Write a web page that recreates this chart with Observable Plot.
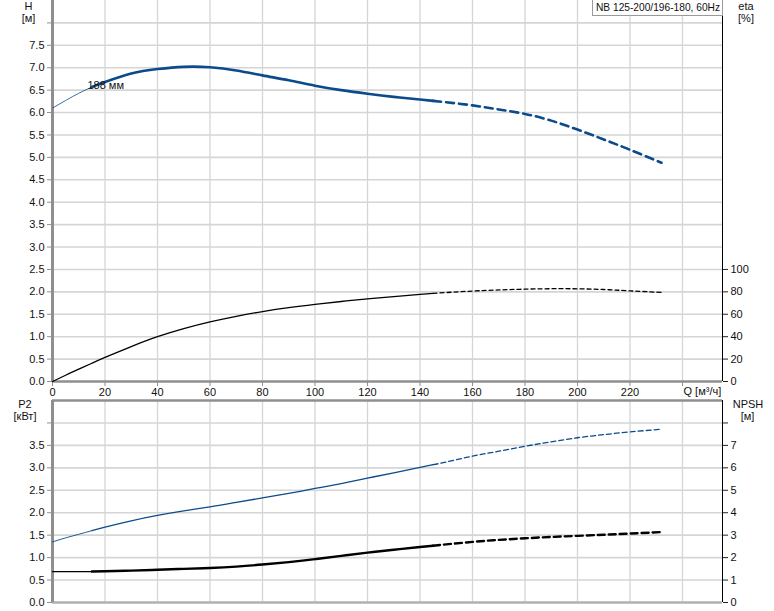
<!DOCTYPE html>
<html>
<head>
<meta charset="utf-8">
<script src="https://cdn.jsdelivr.net/npm/d3@7"></script>
<script src="https://cdn.jsdelivr.net/npm/@observablehq/plot@0.6"></script>
<style>
  body { margin: 0; background: #fff; font-family: Arial, "Liberation Sans", sans-serif; }
  #wrap { position: relative; width: 774px; height: 611px; overflow: hidden; background: #fff; }
  #wrap svg { position: absolute; left: 0; }
  .lbl { position: absolute; font-size: 11px; line-height: 12px; color: #111; text-align: center; width: 50px; white-space: nowrap; }
  #pump { position: absolute; left: 592px; top: -1px; width: 131px; height: 17px; border: 1px solid #9a9a9a; background: #fff;
          font-size: 10.2px; line-height: 16px; color: #111; padding-left: 3px; box-sizing: border-box; white-space: nowrap; }
</style>
</head>
<body>
<div id="wrap"></div>
<script>
// ---- data ----
const Q    = [0, 5, 10, 15, 20, 30, 40, 50, 60, 70, 80, 90, 100, 110, 120, 130, 140, 145, 150, 160, 170, 180, 190, 200, 210, 220, 232];
const H    = [6.10, 6.27, 6.43, 6.57, 6.68, 6.87, 6.97, 7.02, 7.01, 6.94, 6.83, 6.72, 6.60, 6.50, 6.42, 6.35, 6.29, 6.26, 6.23, 6.16, 6.07, 5.97, 5.82, 5.62, 5.40, 5.17, 4.88];
const ETA  = [0, 5.6, 11, 16.3, 21.5, 31.2, 40, 47.2, 53.2, 58.2, 62.4, 65.9, 68.8, 71.4, 73.7, 75.8, 77.7, 78.6, 79.4, 80.7, 81.7, 82.4, 82.8, 82.7, 82.1, 80.9, 79.5];
const P2   = [1.35, 1.44, 1.52, 1.60, 1.68, 1.82, 1.94, 2.04, 2.13, 2.23, 2.33, 2.43, 2.54, 2.65, 2.77, 2.89, 3.01, 3.07, 3.13, 3.26, 3.37, 3.48, 3.58, 3.67, 3.74, 3.80, 3.86];
const NPSH = [1.38, 1.38, 1.38, 1.38, 1.39, 1.42, 1.46, 1.50, 1.54, 1.60, 1.69, 1.80, 1.93, 2.08, 2.22, 2.35, 2.47, 2.53, 2.59, 2.70, 2.79, 2.86, 2.92, 2.97, 3.02, 3.07, 3.14];

const qTicks    = [0, 20, 40, 60, 80, 100, 120, 140, 160, 180, 200, 220, 240];
const hTicks    = [0, 0.5, 1, 1.5, 2, 2.5, 3, 3.5, 4, 4.5, 5, 5.5, 6, 6.5, 7, 7.5, 8];
const etaTicks  = [0, 20, 40, 60, 80, 100];
const p2Ticks   = [0, 0.5, 1, 1.5, 2, 2.5, 3, 3.5, 4];
const npshTicks = [0, 1, 2, 3, 4, 5, 6, 7, 8];

const pumpTitle     = "NB 125-200/196-180, 60Hz";
const impellerLabel = "188 мм";
const qAxisLabel    = "Q [м³/ч]";

// ---- scale relations ----
const XMAX = 255.24;        // right frame edge in m³/h
const HMAX = 8.5;
const P2MAX = 4.5;
const ETA_PER_H = 40;       // eta 100 % at H = 2.5
const NPSH_PER_P2 = 2;      // NPSH 2 m at P2 = 1 kW
const Q_THIN_END = 15, Q_SOLID_END = 145;

const BLUE = "#0b4b8c";
const GRID = "#d5d5d5";
const AXIS = "#8f8f8f";
const FONT = "Arial, 'Liberation Sans', sans-serif";
const CURVE = "natural";

function seg(vals, lo, hi) {
  return Q.map((q, i) => ({q, v: vals[i]})).filter(d => d.q >= lo && d.q <= hi);
}

const wrap = document.getElementById("wrap");

// ---------- top panel ----------
const topPlot = Plot.plot({
  width: 774, height: 397,
  marginLeft: 52, marginRight: 52, marginTop: 0, marginBottom: 16,
  style: {fontFamily: FONT, fontSize: "11px", color: "#111", background: "transparent", overflow: "visible"},
  x: {domain: [0, XMAX]},
  y: {domain: [0, HMAX]},
  marks: [
    Plot.gridX(qTicks, {stroke: GRID, strokeOpacity: 1, strokeWidth: 1.3}),
    Plot.gridY(hTicks.filter(d => d > 0), {stroke: GRID, strokeOpacity: 1, strokeWidth: 1.6}),
    Plot.axisY(hTicks, {anchor: "left", tickSize: 5, tickPadding: 3, stroke: AXIS, fill: "#111",
      tickFormat: d => d < 8 ? d.toFixed(1) : "", label: null}),
    Plot.axisY(etaTicks.map(e => e / ETA_PER_H), {anchor: "right", tickSize: 5, tickPadding: 3, stroke: "#222", fill: "#111",
      tickFormat: d => String(Math.round(d * ETA_PER_H)), label: null}),
    Plot.axisX(qTicks, {anchor: "bottom", tickSize: 5, tickPadding: 2, stroke: AXIS, fill: "#111",
      tickFormat: d => d < 240 ? String(d) : "", label: null}),
    Plot.text([qAxisLabel], {x: [240], frameAnchor: "bottom", text: d => d, textAnchor: "start", lineAnchor: "middle", dy: 10, dx: 1, fill: "#111"}),
    Plot.ruleY([0], {stroke: AXIS, strokeWidth: 2.5}),
    Plot.ruleX([0], {stroke: AXIS, strokeWidth: 3}),
    Plot.ruleX([XMAX], {stroke: "#000", strokeWidth: 1}),
    // efficiency (on H scale)
    Plot.line(seg(ETA, 0, Q_SOLID_END), {x: "q", y: d => d.v / ETA_PER_H, stroke: "#000", strokeWidth: 1.3, curve: CURVE}),
    Plot.line(seg(ETA, Q_SOLID_END, 240), {x: "q", y: d => d.v / ETA_PER_H, stroke: "#000", strokeWidth: 1.3, strokeDasharray: "4,3", curve: CURVE}),
    // head
    Plot.line(seg(H, 0, Q_THIN_END), {x: "q", y: "v", stroke: BLUE, strokeWidth: 0.8, curve: CURVE}),
    Plot.line(seg(H, Q_THIN_END, Q_SOLID_END), {x: "q", y: "v", stroke: BLUE, strokeWidth: 2.6, curve: CURVE}),
    Plot.line(seg(H, Q_SOLID_END, 240), {x: "q", y: "v", stroke: BLUE, strokeWidth: 2.6, strokeDasharray: "8,5", curve: CURVE}),
    Plot.text([impellerLabel], {x: [13.3], y: [6.6], text: d => d, textAnchor: "start", fill: "#111"})
  ]
});
topPlot.style.top = "0px";
wrap.appendChild(topPlot);

// ---------- bottom panel ----------
const botPlot = Plot.plot({
  width: 774, height: 213,
  marginLeft: 52, marginRight: 52, marginTop: 2, marginBottom: 9,
  style: {fontFamily: FONT, fontSize: "11px", color: "#111", background: "transparent", overflow: "visible"},
  x: {domain: [0, XMAX], axis: null},
  y: {domain: [0, P2MAX], axis: null},
  marks: [
    Plot.gridX(qTicks, {stroke: GRID, strokeOpacity: 1, strokeWidth: 1.3}),
    Plot.gridY(p2Ticks.filter(d => d > 0), {stroke: GRID, strokeOpacity: 1, strokeWidth: 1.6}),
    Plot.axisY(p2Ticks, {anchor: "left", tickSize: 5, tickPadding: 3, stroke: AXIS, fill: "#111",
      tickFormat: d => d < 4 ? d.toFixed(1) : "", label: null}),
    Plot.axisY(npshTicks.map(n => n / NPSH_PER_P2), {anchor: "right", tickSize: 5, tickPadding: 3, stroke: "#222", fill: "#111",
      tickFormat: d => { const n = Math.round(d * NPSH_PER_P2); return n < 8 ? String(n) : ""; }, label: null}),
    Plot.ruleY([0], {stroke: "#b0b0b0", strokeWidth: 2.5}),
    Plot.ruleY([P2MAX], {stroke: AXIS, strokeWidth: 2.5}),
    Plot.ruleX([0], {stroke: AXIS, strokeWidth: 3}),
    Plot.ruleX([XMAX], {stroke: "#000", strokeWidth: 1}),
    // P2
    Plot.line(seg(P2, 0, Q_THIN_END), {x: "q", y: "v", stroke: BLUE, strokeWidth: 0.9, curve: CURVE}),
    Plot.line(seg(P2, Q_THIN_END, Q_SOLID_END), {x: "q", y: "v", stroke: BLUE, strokeWidth: 1.3, curve: CURVE}),
    Plot.line(seg(P2, Q_SOLID_END, 240), {x: "q", y: "v", stroke: BLUE, strokeWidth: 1.3, strokeDasharray: "5,3", curve: CURVE}),
    // NPSH (on P2 scale)
    Plot.line(seg(NPSH, 0, Q_THIN_END), {x: "q", y: d => d.v / NPSH_PER_P2, stroke: "#000", strokeWidth: 1.3, curve: CURVE}),
    Plot.line(seg(NPSH, Q_THIN_END, Q_SOLID_END), {x: "q", y: d => d.v / NPSH_PER_P2, stroke: "#000", strokeWidth: 2.4, curve: CURVE}),
    Plot.line(seg(NPSH, Q_SOLID_END, 240), {x: "q", y: d => d.v / NPSH_PER_P2, stroke: "#000", strokeWidth: 2.4, strokeDasharray: "7,4", curve: CURVE})
  ]
});
botPlot.style.top = "398px";
wrap.appendChild(botPlot);

// ---------- axis titles and pump box ----------
function label(text, cx, cy) {
  const d = document.createElement("div");
  d.className = "lbl";
  d.textContent = text;
  d.style.left = (cx - 25) + "px";
  d.style.top = (cy - 6) + "px";
  wrap.appendChild(d);
}
label("H", 28.5, 6);
label("[м]", 28.5, 18);
label("eta", 746, 6);
label("[%]", 746, 18);
label("P2", 25, 404);
label("[кВт]", 25, 416);
label("NPSH", 748, 404);
label("[м]", 747.5, 416);

const box = document.createElement("div");
box.id = "pump";
box.textContent = pumpTitle;
wrap.appendChild(box);
</script>
</body>
</html>
